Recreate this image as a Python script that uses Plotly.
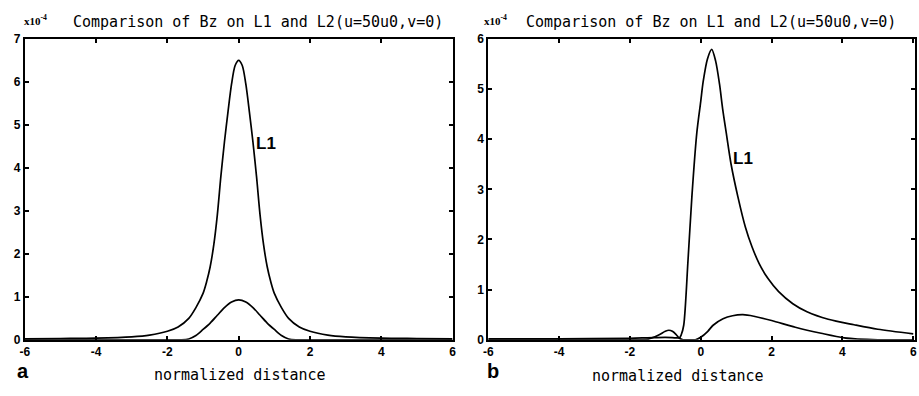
import plotly.graph_objects as go

# ---- data (units of 1e-4) ----
xa_L1 = [-6, -5, -4, -3, -2.5, -2, -1.7, -1.4, -1.2, -1.0, -0.9, -0.8, -0.7, -0.6, -0.5, -0.4, -0.3, -0.2, -0.1, 0,
         0.1, 0.2, 0.3, 0.4, 0.5, 0.6, 0.7, 0.8, 0.9, 1.0, 1.2, 1.4, 1.7, 2.0, 2.5, 3, 4, 5, 6]
ya_L1 = [0.02, 0.03, 0.04, 0.07, 0.11, 0.2, 0.3, 0.5, 0.75, 1.08, 1.35, 1.7, 2.2, 2.9, 3.8, 4.6, 5.3, 5.95, 6.38, 6.5,
         6.38, 5.95, 5.3, 4.6, 3.8, 2.9, 2.2, 1.7, 1.35, 1.08, 0.75, 0.5, 0.3, 0.2, 0.11, 0.07, 0.04, 0.03, 0.02]

xa_L2 = [-6, -4, -2, -1.6, -1.4, -1.2, -1.0, -0.8, -0.6, -0.4, -0.2, 0,
         0.2, 0.4, 0.6, 0.8, 1.0, 1.2, 1.4, 1.6, 2, 4, 6]
ya_L2 = [0.0, 0.0, 0.0, 0.0, 0.02, 0.1, 0.24, 0.39, 0.57, 0.75, 0.88, 0.93,
         0.88, 0.75, 0.57, 0.39, 0.24, 0.1, 0.02, 0.0, 0.0, 0.0, 0.0]

xb_L1 = [-6, -4, -2, -1.5, -1.0, -0.7, -0.6, -0.55, -0.48, -0.36, -0.25, -0.11, 0.0, 0.07, 0.19, 0.31,
         0.42, 0.53, 0.62, 0.72, 0.86, 1.05, 1.26, 1.45, 1.65, 1.9, 2.2, 2.6, 3.0, 3.6, 4.33, 5.0, 6]
yb_L1 = [0.02, 0.02, 0.03, 0.04, 0.05, 0.04, 0.04, 0.1, 0.29, 1.57, 2.85, 4.13, 4.75, 5.15, 5.6, 5.79,
         5.56, 5.1, 4.6, 4.13, 3.49, 2.85, 2.25, 1.85, 1.52, 1.22, 0.96, 0.72, 0.56, 0.41, 0.3, 0.21, 0.12]

xb_L2 = [-6, -4, -2, -1.5, -1.2, -1.0, -0.9, -0.8, -0.7, -0.6, -0.5, -0.3, -0.15, 0.0, 0.2, 0.35,
         0.63, 0.9, 1.19, 1.5, 2.0, 2.67, 3.4, 4.05, 5, 6]
yb_L2 = [0.0, 0.0, 0.0, 0.01, 0.09, 0.17, 0.19, 0.17, 0.11, 0.03, 0.0, 0.0, 0.0, 0.05, 0.17, 0.29,
         0.42, 0.48, 0.5, 0.47, 0.385, 0.25, 0.13, 0.04, 0.0, 0.0]

xticks = [-6, -4, -2, 0, 2, 4, 6]
xtick_text = ["-6", "-4", "-2", "0", "2", "4", "6"]
ya_ticks = [0, 1, 2, 3, 4, 5, 6, 7]
yb_ticks = [0, 1, 2, 3, 4, 5, 6]

title_text = "Comparison of Bz on L1 and L2(u=50u0,v=0)"
xlabel = "normalized distance"

W, H = 919, 396
fig = go.Figure()
line = dict(color="black", width=1.7, shape="spline", smoothing=0.8)
fig.add_trace(go.Scatter(x=xa_L1, y=ya_L1, mode="lines", line=line, xaxis="x", yaxis="y"))
fig.add_trace(go.Scatter(x=xa_L2, y=ya_L2, mode="lines", line=line, xaxis="x", yaxis="y"))
fig.add_trace(go.Scatter(x=xb_L1, y=yb_L1, mode="lines", line=line, xaxis="x2", yaxis="y2"))
fig.add_trace(go.Scatter(x=xb_L2, y=yb_L2, mode="lines", line=line, xaxis="x2", yaxis="y2"))

tickfont = dict(family="Liberation Sans", size=12, color="black", weight="bold")
ax_common = dict(showgrid=False, zeroline=False, showline=True, linecolor="black", linewidth=1.8,
                 mirror="ticks", ticks="inside", ticklen=4, tickwidth=1.5, tickcolor="black",
                 tickfont=tickfont)

ybot, ytop = 1 - 345 / H, 1 - 33 / H
fig.update_layout(
    width=W, height=H, margin=dict(l=0, r=0, t=0, b=0),
    paper_bgcolor="white", plot_bgcolor="white", showlegend=False,
    xaxis=dict(domain=[20 / W, 452 / W], range=[-6, 6], tickvals=xticks, ticktext=xtick_text,
               anchor="y", ticklabelstandoff=0, **ax_common),
    yaxis=dict(domain=[ybot, ytop], range=[0, 7], tickvals=ya_ticks, anchor="x",
               ticklabelstandoff=0, **ax_common),
    xaxis2=dict(domain=[488 / W, 1.0], range=[-6, 6.05], tickvals=xticks, ticktext=xtick_text,
                anchor="y2", ticklabelstandoff=0, **ax_common),
    yaxis2=dict(domain=[ybot, ytop], range=[0, 6], tickvals=yb_ticks, anchor="x2",
                ticklabelstandoff=0, **ax_common),
)

mono = dict(family="DejaVu Sans Mono", size=15, color="black")
ann = []
def paper(x, y, text, font, xanchor="left", yanchor="middle"):
    ann.append(dict(x=x / W, y=1 - y / H, xref="paper", yref="paper", text=text, showarrow=False,
                    font=font, xanchor=xanchor, yanchor=yanchor))

paper(67, 16, title_text, mono)
paper(524, 16, title_text, mono)
sup = dict(family="Liberation Serif", size=11, color="black", weight="bold")
paper(17, 13, "x10<sup>-4</sup>", sup)
paper(482, 13, "x10<sup>-4</sup>", sup)
paper(237, 382, xlabel, mono, xanchor="center")
paper(680, 383, xlabel, mono, xanchor="center")
big = dict(family="Liberation Sans", size=20, color="black", weight="bold")
paper(18, 377, "a", big, xanchor="center")
paper(493, 377, "b", big, xanchor="center")
lab = dict(family="Liberation Sans", size=17, color="black", weight="bold")
paper(264, 141, "L1", lab, xanchor="center")
paper(745, 157, "L1", lab, xanchor="center")
fig.update_layout(annotations=ann)

fig.write_html("out.html")
